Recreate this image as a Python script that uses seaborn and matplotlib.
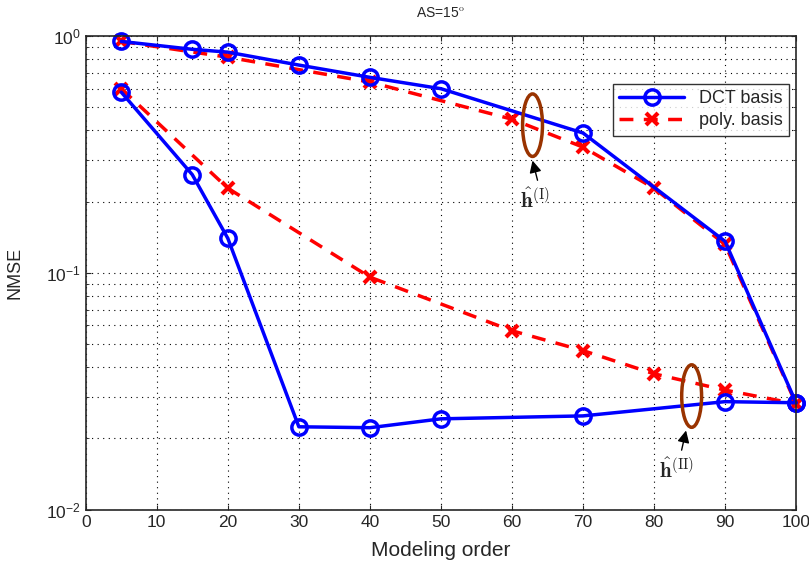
import numpy as np
import pandas as pd
import matplotlib
matplotlib.use('Agg')
import matplotlib.pyplot as plt
from matplotlib.patches import Ellipse
import seaborn as sns

# data
order_dct = [5, 15, 20, 30, 40, 50, 70, 90, 100]
dct_upper = [0.95, 0.88, 0.856, 0.755, 0.67, 0.60, 0.39, 0.136, 0.0283]
dct_lower = [0.58, 0.26, 0.14, 0.0224, 0.0222, 0.0242, 0.0249, 0.0286, 0.0283]

order_poly = [5, 20, 40, 60, 70, 80, 90, 100]
poly_upper = [0.95, 0.815, 0.64, 0.446, 0.34, 0.228, 0.132, 0.028]
poly_lower = [0.60, 0.228, 0.096, 0.057, 0.047, 0.0375, 0.032, 0.028]

xticks = list(range(0, 101, 10))

sns.set_style('ticks')
plt.rcParams['font.family'] = ['Liberation Sans', 'DejaVu Sans']
plt.rcParams['mathtext.fontset'] = 'cm'

fig, ax = plt.subplots(figsize=(8.09, 5.74), dpi=100)
fig.subplots_adjust(left=0.106, right=0.984, top=0.937, bottom=0.112)

red_kw = dict(color='red', linestyle=(0, (4, 3)), linewidth=2.5, marker='x',
              markersize=9, markeredgewidth=3, markeredgecolor='red', clip_on=False)
blue_kw = dict(color='blue', linewidth=2.5, marker='o', markersize=11,
               markeredgewidth=2.5, markeredgecolor='blue', markerfacecolor='none',
               clip_on=False)

sns.lineplot(x=order_poly, y=poly_upper, ax=ax, label='poly. basis', **red_kw)
sns.lineplot(x=order_poly, y=poly_lower, ax=ax, **red_kw)
sns.lineplot(x=order_dct, y=dct_upper, ax=ax, label='DCT basis', **blue_kw)
sns.lineplot(x=order_dct, y=dct_lower, ax=ax, **blue_kw)

ax.set_yscale('log')
ax.set_xlim(0, 100)
ax.set_ylim(1e-2, 1)
ax.set_xticks(xticks)
ax.tick_params(which='both', direction='in', labelsize=12.5, top=True, right=True)
ax.grid(True, which='major', linestyle=(0, (1, 4)), color='black', linewidth=0.8)
ax.grid(True, which='minor', axis='y', linestyle=(0, (1, 4)), color='black', linewidth=0.8)
for s in ax.spines.values():
    s.set_linewidth(1.2)

ax.set_xlabel('Modeling order', fontsize=15, labelpad=8)
ax.set_ylabel('NMSE', fontsize=13, labelpad=16)
ax.set_title('AS=15$^{\\mathrm{o}}$', fontsize=10, pad=14)

handles, labels = ax.get_legend_handles_labels()
leg = ax.legend(handles[::-1], labels[::-1], loc='upper right',
                bbox_to_anchor=(0.99, 0.9), fontsize=13, frameon=True,
                fancybox=False, edgecolor='black', handlelength=3.6,
                borderaxespad=0, labelspacing=0.3, borderpad=0.35)
leg.get_frame().set_linewidth(1.0)

# annotations
for cx, cy in [(0.629, 0.812), (0.853, 0.24)]:
    ax.add_patch(Ellipse((cx, cy), 0.028, 0.132, transform=ax.transAxes,
                         fill=False, edgecolor='#993300', linewidth=2.5, zorder=5))

ax.annotate('', xy=(0.628, 0.743), xytext=(0.637, 0.69), xycoords='axes fraction',
            arrowprops=dict(arrowstyle='-|>', color='black', lw=1, mutation_scale=18))
ax.text(0.632, 0.655, r'$\hat{\mathbf{h}}^{(\mathrm{I})}$', transform=ax.transAxes,
        ha='center', va='center', fontsize=15)
ax.annotate('', xy=(0.846, 0.173), xytext=(0.838, 0.12), xycoords='axes fraction',
            arrowprops=dict(arrowstyle='-|>', color='black', lw=1, mutation_scale=18))
ax.text(0.832, 0.085, r'$\hat{\mathbf{h}}^{(\mathrm{II})}$', transform=ax.transAxes,
        ha='center', va='center', fontsize=15)

fig.savefig('out.png', dpi=100)
